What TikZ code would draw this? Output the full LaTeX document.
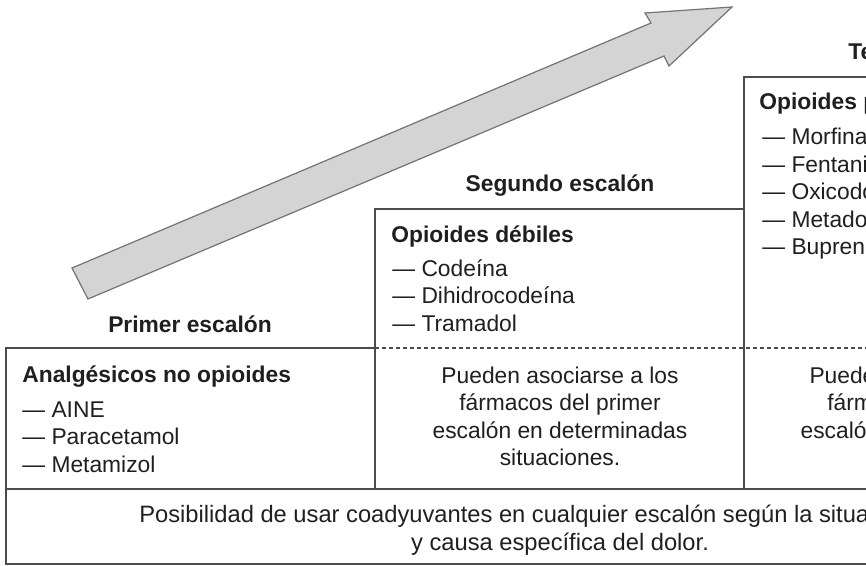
\documentclass[tikz,border=0pt]{standalone}
\usepackage{fontspec}
\setmainfont{Liberation Sans}

\begin{document}
\begin{tikzpicture}[x=0.5pt, y=-0.5pt,
    every node/.style={inner sep=0pt, text=black!88, font=\fontsize{11.4}{13.75}\selectfont},
    titulo/.style={font=\fontsize{11.4}{13.75}\selectfont\bfseries},
    nota/.style={font=\fontsize{11.85}{14}\selectfont},
    raya/.style={draw=black!70, line width=0.7pt}]
    \useasboundingbox (0,0) rectangle (866,566);
    \clip (0,0) rectangle (866,566);
    % flecha
    \draw[fill=black!17, draw=black!55, line width=0.6pt]
    (72,268) -- (651,23) -- (645,13) -- (732,7) -- (669,66) -- (664,56) -- (88,299) -- cycle;
    % escalones
    \draw[raya] (6,564) -- (6,348) -- (375,348) -- (375,209) -- (744,209) -- (744,77) -- (1113,77) -- (1113,564) -- cycle;
    \draw[raya]
    (375,348) -- (375,489)
    (744,209) -- (744,489)
    (6,489) -- (1113,489);
    \draw[raya, dash pattern=on 2pt off 1.5pt] (375,348) -- (1113,348);
    % rotulos (base = ultima linea)
    \node[titulo, anchor=base] (primer) at (190,332) {Primer escalón};
    \node[titulo, anchor=base] (segundo) at (560,192) {Segundo escalón};
    \node[titulo, anchor=base] (tercer) at (928,60) {Tercer escalón};
    \node[titulo, anchor=base west] (analg) at (22,382) {Analgésicos no opioides};
    \node[titulo, anchor=base west] (debiles) at (391,243) {Opioides débiles};
    \node[titulo, anchor=base west] (potentes) at (759,110) {Opioides potentes};
    \node[anchor=base west, align=left] (lista1) at (22,472) {— AINE\\— Paracetamol\\— Metamizol};
    \node[anchor=base west, align=left] (lista2) at (392,331) {— Codeína\\— Dihidrocodeína\\— Tramadol};
    \node[anchor=base west, align=left] (lista3) at (762,255) {— Morfina\\— Fentanilo\\— Oxicodona\\— Metadona\\— Buprenorfina};
    \node[anchor=base, align=center] (nota2) at (560,465.5) {Pueden asociarse a los\\fármacos del primer\\escalón en determinadas\\situaciones.};
    \node[anchor=base, align=center] (nota3) at (928,465.5) {Pueden asociarse a los\\fármacos del primer\\escalón en determinadas\\situaciones.};
    \node[nota, anchor=base west] (coad1) at (139,522) {Posibilidad de usar coadyuvantes en cualquier escalón según la situación};
    \node[nota, anchor=base] (coad2) at (560,550) {y causa específica del dolor.};
\end{tikzpicture}
\end{document}
